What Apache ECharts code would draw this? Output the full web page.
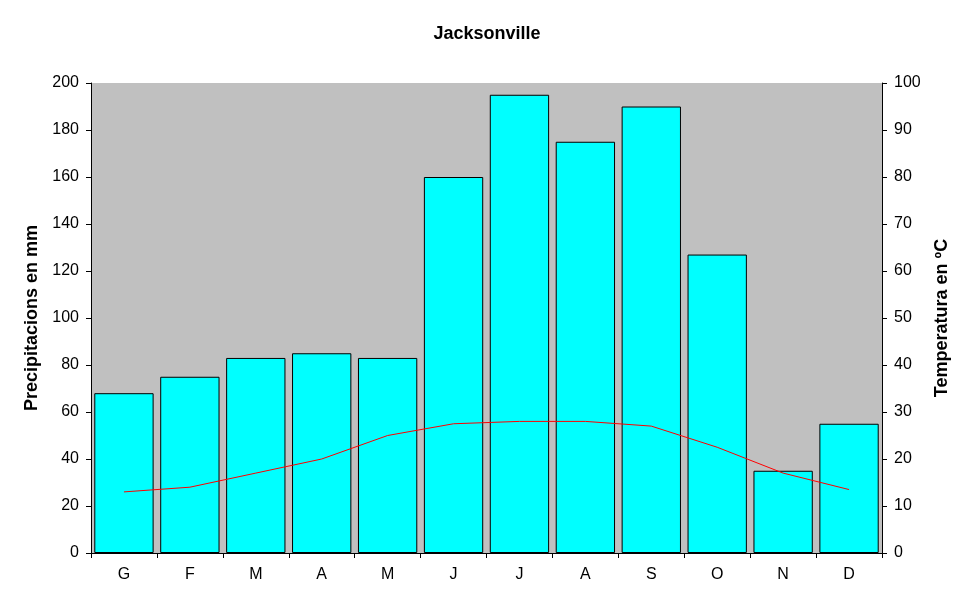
<!DOCTYPE html>
<html>
<head>
<meta charset="utf-8">
<script src="https://cdn.jsdelivr.net/npm/echarts@6/dist/echarts.min.js"></script>
<style>
  html, body { margin: 0; padding: 0; background: #fff; }
  #chart { width: 974px; height: 604px; }
</style>
</head>
<body>
<div id="chart"></div>
<script>
var months = ['G', 'F', 'M', 'A', 'M', 'J', 'J', 'A', 'S', 'O', 'N', 'D'];
var precip = [68, 75, 83, 85, 83, 160, 195, 175, 190, 127, 35, 55];
var temp = [13, 14, 17, 20, 25, 27.5, 28, 28, 27, 22.5, 17, 13.5];

var font = 'Liberation Sans, Arial, sans-serif';
var chart = echarts.init(document.getElementById('chart'));
chart.setOption({
  backgroundColor: '#fff',
  animation: false,
  title: {
    text: 'Jacksonville',
    left: 'center',
    top: 20,
    textStyle: { fontFamily: font, fontSize: 18, fontWeight: 'bold', color: '#000' }
  },
  grid: {
    left: 91, right: 92, top: 83, bottom: 51,
    show: true,
    backgroundColor: '#c0c0c0',
    borderWidth: 0
  },
  xAxis: {
    type: 'category',
    data: months,
    axisLine: { lineStyle: { color: '#000', width: 1 } },
    axisTick: { show: true, length: 5, lineStyle: { color: '#000' } },
    axisLabel: { color: '#000', fontFamily: font, fontSize: 16, margin: 14 }
  },
  yAxis: [{
    type: 'value',
    min: 0, max: 200, interval: 20,
    name: 'Precipitacions en mm',
    nameLocation: 'middle',
    nameGap: 49,
    nameTextStyle: { fontFamily: font, fontSize: 18, fontWeight: 'bold', color: '#000' },
    axisLine: { show: true, lineStyle: { color: '#000' } },
    axisTick: { show: true, length: 5, lineStyle: { color: '#000' } },
    axisLabel: { color: '#000', fontFamily: font, fontSize: 16, margin: 12 },
    splitLine: { show: false }
  }, {
    type: 'value',
    min: 0, max: 100, interval: 10,
    name: 'Temperatura en ºC',
    nameLocation: 'middle',
    nameGap: 51,
    nameTextStyle: { fontFamily: font, fontSize: 18, fontWeight: 'bold', color: '#000' },
    axisLine: { show: true, lineStyle: { color: '#000' } },
    axisTick: { show: true, length: 5, lineStyle: { color: '#000' } },
    axisLabel: { color: '#000', fontFamily: font, fontSize: 16, margin: 12 },
    splitLine: { show: false }
  }],
  series: [{
    name: 'Precipitacions',
    type: 'bar',
    data: precip,
    barCategoryGap: '10%',
    itemStyle: { color: '#00ffff', borderColor: '#000', borderWidth: 1 }
  }, {
    name: 'Temperatura',
    type: 'line',
    yAxisIndex: 1,
    data: temp,
    symbol: 'none',
    lineStyle: { color: '#ff0000', width: 1 }
  }]
});
</script>
</body>
</html>
